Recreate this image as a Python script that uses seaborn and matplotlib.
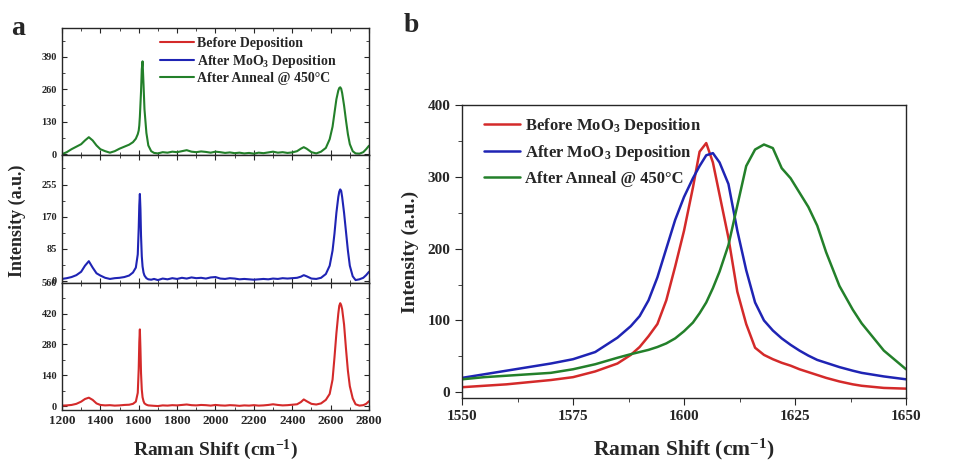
import numpy as np
import pandas as pd
import matplotlib
matplotlib.use("Agg")
import matplotlib.pyplot as plt
from matplotlib.lines import Line2D
from matplotlib.ticker import MultipleLocator
import seaborn as sns

# ---- Panel (a): full Raman spectra, 1200-2800 cm^-1 ----
shift_a = [
    1200, 1225, 1250, 1275, 1300, 1320, 1340, 1360, 1380, 1400,
    1425, 1450, 1475, 1500, 1525, 1550, 1570, 1585, 1595, 1600,
    1603, 1606, 1609, 1612, 1616, 1620, 1625, 1630, 1640, 1650,
    1665, 1680, 1700, 1725, 1750, 1775, 1800, 1825, 1850, 1875,
    1900, 1925, 1950, 1975, 2000, 2025, 2050, 2075, 2100, 2125,
    2150, 2175, 2200, 2225, 2250, 2275, 2300, 2325, 2350, 2375,
    2400, 2425, 2445, 2460, 2475, 2500, 2525, 2550, 2575, 2595,
    2610, 2620, 2630, 2640, 2645, 2650, 2655, 2660, 2670, 2680,
    2690, 2700, 2715, 2730, 2750, 2770, 2785, 2800,
]
before_a = [
    2, 3, 5, 10, 20, 32, 38, 28, 12, 5,
    3, 4, 2, 3, 5, 6, 10, 20, 60, 170,
    290, 348, 260, 150, 75, 40, 22, 12, 6, 3,
    2, 1, 0, 3, 2, 4, 3, 5, 7, 4,
    3, 5, 4, 2, 5, 3, 2, 4, 3, 1,
    3, 2, 4, 2, 3, 5, 8, 5, 3, 4,
    6, 8, 18, 30, 22, 10, 7, 12, 28, 55,
    120, 220, 330, 420, 455, 467, 458, 440, 370, 260,
    160, 90, 35, 8, 2, 4, 10, 22,
]
after_moo3_a = [
    5, 7, 10, 15, 24, 40, 52, 35, 20, 14,
    8, 5, 7, 8, 10, 14, 22, 35, 70, 140,
    200, 230, 190, 120, 65, 38, 22, 14, 7, 4,
    3, 5, 2, 6, 4, 7, 5, 8, 6, 9,
    7, 8, 6, 9, 10, 6, 5, 7, 6, 4,
    5, 4, 3, 4, 5, 4, 6, 5, 7, 6,
    7, 8, 11, 15, 12, 6, 5, 8, 18, 40,
    80, 125, 180, 222, 236, 242, 238, 222, 180, 130,
    80, 40, 12, 2, 4, 8, 15, 24,
]
annealed_a = [
    0, 8, 20, 30, 40, 55, 68, 55, 35, 20,
    12, 6, 12, 22, 30, 38, 48, 62, 80, 95,
    115, 150, 200, 250, 340, 372, 280, 180, 85, 35,
    12, 5, 3, 8, 6, 10, 8, 12, 16, 10,
    8, 11, 9, 6, 10, 8, 5, 7, 4, 6,
    3, 5, 2, 6, 4, 7, 10, 6, 8, 5,
    7, 12, 22, 28, 22, 8, 3, 10, 25, 60,
    110, 165, 220, 255, 265, 268, 262, 245, 195, 135,
    80, 40, 12, 3, 2, 8, 20, 34,
]

# ---- Panel (b): G band close-up, 1550-1650 cm^-1 ----
shift_b = [
    1550, 1555, 1560, 1565, 1570, 1575, 1580, 1585, 1588, 1590,
    1592, 1594, 1596, 1598, 1600, 1602, 1603.5, 1605, 1606.5, 1608,
    1610, 1612, 1614, 1616, 1618, 1620, 1622, 1624, 1626, 1628,
    1630, 1632, 1635, 1638, 1640, 1645, 1650,
]
before_b = [
    7, 9, 11, 14, 17, 21, 29, 40, 52, 63,
    78, 95, 128, 175, 225, 285, 335, 347, 320, 275,
    215, 140, 95, 62, 52, 46, 41, 37, 32, 28,
    24, 20, 15, 11, 9, 6, 5,
]
after_moo3_b = [
    20, 25, 30, 35, 40, 46, 56, 76, 92, 106,
    128, 160, 200, 240, 272, 298, 315, 330, 333, 320,
    290, 225, 170, 125, 100, 86, 75, 66, 58, 51,
    45, 41, 35, 30, 27, 22, 18,
]
annealed_b = [
    18, 21, 23, 25, 27, 32, 39, 48, 53, 56,
    59, 63, 68, 75, 85, 97, 110, 125, 145, 168,
    205, 260, 315, 338, 345, 340, 312, 298, 278, 258,
    232, 195, 148, 115, 96, 58, 32,
]

labels_a = ["Before Deposition", "After MoO$_3$ Deposition", "After Anneal @ 450°C"]
labels_b = ["Before MoO$_3$ Deposition", "After MoO$_3$ Deposition", "After Anneal @ 450°C"]
colors = ["#d42a2a", "#1f24b4", "#23802a"]

df_a = pd.DataFrame({
    "shift": shift_a * 3,
    "intensity": before_a + after_moo3_a + annealed_a,
    "sample": [labels_a[0]] * len(shift_a) + [labels_a[1]] * len(shift_a) + [labels_a[2]] * len(shift_a),
})
df_b = pd.DataFrame({
    "shift": shift_b * 3,
    "intensity": before_b + after_moo3_b + annealed_b,
    "sample": [labels_b[0]] * len(shift_b) + [labels_b[1]] * len(shift_b) + [labels_b[2]] * len(shift_b),
})

sns.set_style("ticks")
plt.rcParams["font.family"] = ["Liberation Serif", "DejaVu Serif"]
plt.rcParams["font.weight"] = "bold"
plt.rcParams["mathtext.fontset"] = "custom"
plt.rcParams["mathtext.rm"] = "Liberation Serif:bold"
plt.rcParams["mathtext.bf"] = "Liberation Serif:bold"
plt.rcParams["mathtext.default"] = "bf"
plt.rcParams["axes.linewidth"] = 1.0

fig = plt.figure(figsize=(9.65, 4.61), dpi=100)

# Panel (a): three stacked axes sharing the x axis
gs = fig.add_gridspec(3, 1, left=0.0642, right=0.3824, bottom=0.1106, top=0.939, hspace=0)
ax_top = fig.add_subplot(gs[0])
ax_mid = fig.add_subplot(gs[1], sharex=ax_top)
ax_bot = fig.add_subplot(gs[2], sharex=ax_top)

stack = [
    (ax_top, labels_a[2], colors[2], (-5, 505), 130),
    (ax_mid, labels_a[1], colors[1], (-5, 332), 85),
    (ax_bot, labels_a[0], colors[0], (-18, 560), 140),
]
for ax, lab, col, ylim, step in stack:
    sub = df_a[df_a["sample"] == lab]
    sns.lineplot(data=sub, x="shift", y="intensity", ax=ax, color=col, lw=1.5, legend=False)
    ax.set_ylim(*ylim)
    ax.yaxis.set_major_locator(MultipleLocator(step))
    ax.yaxis.set_minor_locator(MultipleLocator(step / 2))
    ax.set_xlabel("")
    ax.set_ylabel("")
    ax.tick_params(which="both", direction="in", top=True, right=True, labelsize=7.5)
    ax.tick_params(which="major", length=3.5)
    ax.tick_params(which="minor", length=2)
    for sp in ax.spines.values():
        sp.set_visible(True)

ax_top.set_xlim(1200, 2800)
ax_top.xaxis.set_major_locator(MultipleLocator(200))
ax_top.xaxis.set_minor_locator(MultipleLocator(100))
ax_top.tick_params(labelbottom=False)
ax_mid.tick_params(labelbottom=False)
ax_bot.tick_params(axis="x", labelsize=9.5)
ax_bot.set_xlabel("Raman Shift (cm$^{-1}$)", fontsize=14, fontweight="bold", labelpad=8)
fig.text(0.018, 0.52, "Intensity (a.u.)", rotation=90, va="center", ha="center",
         fontsize=13, fontweight="bold")

handles_a = [Line2D([], [], color=c, lw=1.5) for c in colors]
ax_top.legend(handles_a, labels_a, loc="upper left", bbox_to_anchor=(0.28, 1.03),
              frameon=False, fontsize=10, handlelength=2.4, handletextpad=0.2,
              labelspacing=0.2)

# Panel (b): close-up of the G band
ax_b = fig.add_axes([0.4788, 0.1367, 0.9389 - 0.4788, 0.7722 - 0.1367])
sns.lineplot(data=df_b, x="shift", y="intensity", hue="sample", hue_order=labels_b,
             palette=colors, lw=1.8, ax=ax_b, legend=False)
ax_b.set_xlim(1550, 1650)
ax_b.set_ylim(-8, 400)
ax_b.xaxis.set_major_locator(MultipleLocator(25))
ax_b.xaxis.set_minor_locator(MultipleLocator(12.5))
ax_b.yaxis.set_major_locator(MultipleLocator(100))
ax_b.yaxis.set_minor_locator(MultipleLocator(50))
ax_b.tick_params(which="both", direction="out", labelsize=11)
ax_b.tick_params(which="major", length=5)
ax_b.tick_params(which="minor", length=3)
for sp in ax_b.spines.values():
    sp.set_visible(True)
ax_b.set_xlabel("Raman Shift (cm$^{-1}$)", fontsize=15.5, fontweight="bold", labelpad=10)
ax_b.set_ylabel("Intensity (a.u.)", fontsize=14, fontweight="bold", labelpad=6)

handles_b = [Line2D([], [], color=c, lw=1.8) for c in colors]
ax_b.legend(handles_b, labels_b, loc="upper left", bbox_to_anchor=(0.015, 1.015),
            frameon=False, fontsize=12, handlelength=2.2, handletextpad=0.25,
            labelspacing=0.45)

fig.text(0.012, 0.925, "a", fontsize=20, fontweight="bold")
fig.text(0.418, 0.93, "b", fontsize=20, fontweight="bold")

fig.savefig("out.png", dpi=100)
